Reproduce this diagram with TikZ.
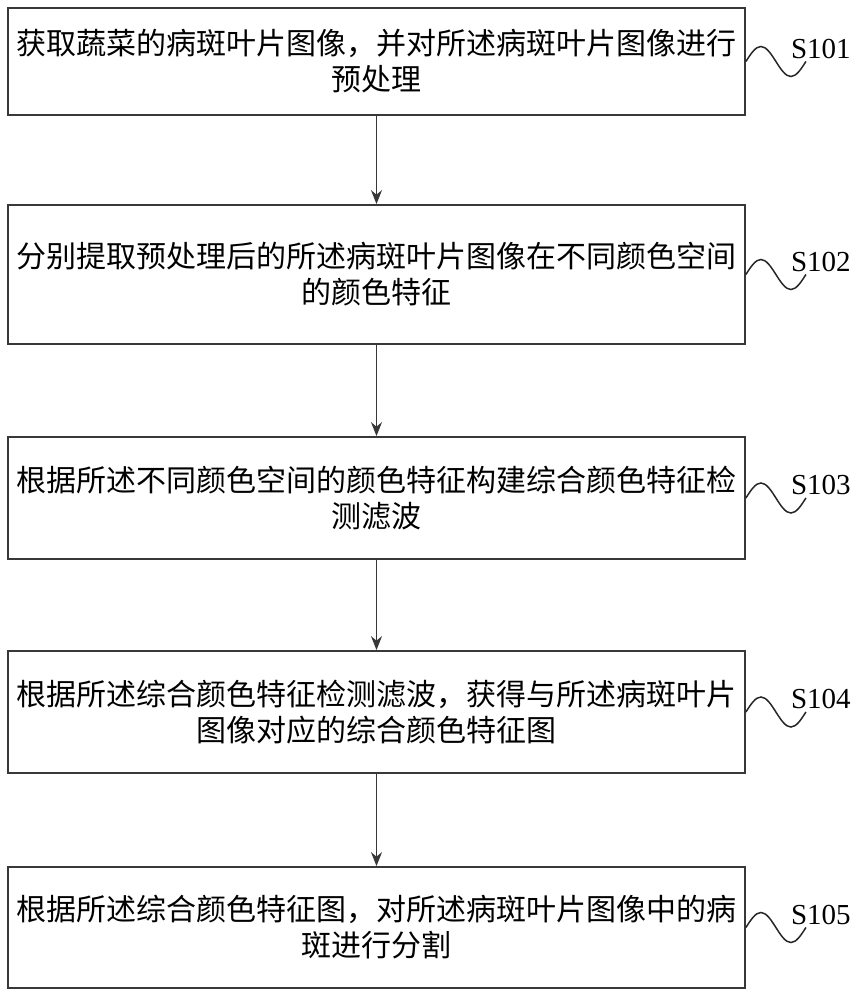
\documentclass[tikz,border=0pt]{standalone}
\usepackage{fontspec}
\setmainfont{Liberation Serif}
\newfontfamily\cjk{Noto Sans CJK SC}
\usetikzlibrary{arrows.meta}
\tikzset{
  stepbox/.style={draw=black!78, line width=1.8pt, minimum width=737pt, text width=725pt,
    align=center, inner sep=0pt, font=\cjk\fontsize{30}{36}\selectfont},
  flow/.style={draw=black!78, line width=1.5pt, -{Stealth[length=14pt,width=11pt]}},
  wave/.style={draw=black!85, line width=1.5pt},
  steplabel/.style={font=\fontsize{29}{30}\selectfont, inner sep=0pt, anchor=south west}
}
\begin{document}
\begin{tikzpicture}[x=1pt,y=-1pt]
  \def\cx{376.5}
  \useasboundingbox (0,0) rectangle (857,1000);
  % steps
  \node[stepbox,minimum height=107pt] (s1) at (\cx,61.5)
    {获取蔬菜的病斑叶片图像，并对所述病斑叶片图像进行\\预处理};
  \node[stepbox,minimum height=139pt] (s2) at (\cx,274.5)
    {分别提取预处理后的所述病斑叶片图像在不同颜色空间\\的颜色特征};
  \node[stepbox,minimum height=122pt] (s3) at (\cx,498)
    {根据所述不同颜色空间的颜色特征构建综合颜色特征检\\测滤波};
  \node[stepbox,minimum height=122pt] (s4) at (\cx,712)
    {根据所述综合颜色特征检测滤波，获得与所述病斑叶片\\图像对应的综合颜色特征图};
  \node[stepbox,minimum height=121pt] (s5) at (\cx,927.5)
    {根据所述综合颜色特征图，对所述病斑叶片图像中的病\\斑进行分割};
  % arrows
  \foreach \a/\b in {s1/s2,s2/s3,s3/s4,s4/s5}
    \draw[flow] (\a.south) -- (\b.north);
  % step numbers
  \foreach \n in {1,...,5}{
    \draw[wave] (s\n.east) sin ++(15,-15) cos ++(15,15) sin ++(15,15) cos ++(15,-15) coordinate (w\n);
    \node[steplabel] (l\n) at ([xshift=-15pt,yshift=3pt]w\n) {S10\n};
  }
\end{tikzpicture}
\end{document}
